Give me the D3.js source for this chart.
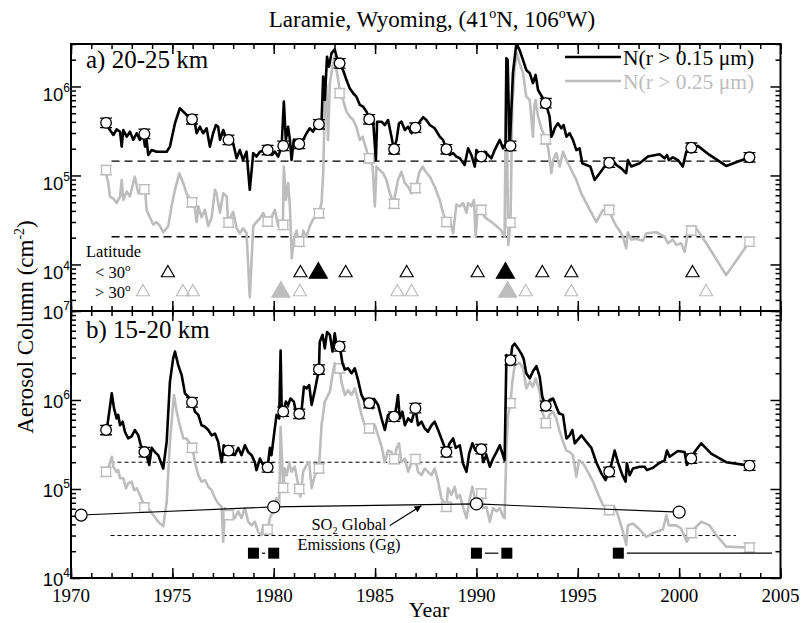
<!DOCTYPE html>
<html><head><meta charset="utf-8">
<script src="https://cdn.jsdelivr.net/npm/d3@7"></script>
<style>body{margin:0;background:#fff}svg{display:block}</style>
</head><body><svg id="c" width="801" height="623"></svg>
<script>
// ---------------- DATA ----------------
const yearTicks = [1970,1975,1980,1985,1990,1995,2000,2005];
const aDecades = [4,5,6];
const bDecades = [4,5,6,7];
const seriesLabels = ["N(r > 0.15 \u03bcm)","N(r > 0.25 \u03bcm)"];

const aBlack = [[1971.73,3.9e5],[1971.92,3.24e5],[1972.09,2.85e5],[1972.25,3.3e5],[1972.42,3.1e5],[1972.50,2.11e5],[1972.58,3.24e5],[1972.75,2.73e5],[1972.91,3.1e5],[1973.07,2.51e5],[1973.24,2.98e5],[1973.40,2.51e5],[1973.56,2.98e5],[1973.65,2.11e5],[1973.73,2.51e5],[1973.81,1.7e5],[1973.98,1.93e5],[1974.22,1.85e5],[1974.72,1.85e5],[1974.88,2.11e5],[1975.13,3.86e5],[1975.37,5.69e5],[1975.54,5.21e5],[1975.87,4.39e5],[1976.11,3.86e5],[1976.20,2.98e5],[1976.36,3.53e5],[1976.52,2.98e5],[1976.69,3.39e5],[1976.85,2.11e5],[1977.01,2.98e5],[1977.15,3.69e5],[1977.26,3.53e5],[1977.35,2.51e5],[1977.51,3.24e5],[1977.68,2.51e5],[1977.84,2.4e5],[1978.00,2.3e5],[1978.17,1.56e5],[1978.33,1.93e5],[1978.49,1.49e5],[1978.66,1.85e5],[1978.82,6.9e4],[1978.99,1.78e5],[1979.15,1.63e5],[1979.32,1.85e5],[1979.65,1.93e5],[1979.89,1.7e5],[1980.06,1.85e5],[1980.22,1.63e5],[1980.39,2.11e5],[1980.50,6.75e5],[1980.60,2.51e5],[1980.71,3.53e5],[1980.80,2.51e5],[1980.88,1.49e5],[1980.99,2.51e5],[1981.13,2.11e5],[1981.25,2.3e5],[1981.45,2.51e5],[1981.62,2.98e5],[1981.78,3.39e5],[1981.94,3.1e5],[1982.11,3.69e5],[1982.36,4.02e5],[1982.44,1.29e6],[1982.52,7.05e5],[1982.63,2.16e6],[1982.73,1.67e6],[1982.85,2.36e6],[1983.01,2.62e6],[1983.10,2.16e6],[1983.23,1.82e6],[1983.42,1.53e6],[1983.59,1.18e6],[1983.75,9.54e5],[1983.92,8.39e5],[1984.08,7.68e5],[1984.25,6.2e5],[1984.41,5.93e5],[1984.58,5.21e5],[1984.71,4.28e5],[1984.90,4.2e5],[1985.04,1.49e5],[1985.10,4.02e5],[1985.32,4.02e5],[1985.48,3.69e5],[1985.64,4.2e5],[1985.81,2.73e5],[1985.92,1.97e5],[1986.06,2.51e5],[1986.18,3.86e5],[1986.30,4.02e5],[1986.47,3.24e5],[1986.63,3.53e5],[1986.80,2.98e5],[1987.01,3.44e5],[1987.20,4.02e5],[1987.37,4.51e5],[1987.53,4.2e5],[1987.70,3.69e5],[1987.94,3.39e5],[1988.19,2.73e5],[1988.35,2.51e5],[1988.52,1.97e5],[1988.68,1.7e5],[1988.85,1.78e5],[1989.01,1.63e5],[1989.18,1.56e5],[1989.42,1.31e5],[1989.59,2.02e5],[1989.75,1.7e5],[1989.92,1.26e5],[1990.00,1.93e5],[1990.21,1.63e5],[1990.41,1.85e5],[1990.57,1.7e5],[1990.74,1.56e5],[1990.90,1.93e5],[1991.15,2.51e5],[1991.31,2.02e5],[1991.44,2.3e5],[1991.48,2.07e6],[1991.54,1.98e6],[1991.64,1.93e5],[1991.80,1.41e6],[1991.97,3.06e6],[1992.13,2.57e6],[1992.30,1.98e6],[1992.46,1.53e6],[1992.63,1.41e6],[1992.79,1.09e6],[1992.92,1.35e6],[1993.04,9.13e5],[1993.42,6.48e5],[1993.61,4.58e5],[1993.70,2.73e5],[1993.78,2.98e5],[1993.86,3.39e5],[1994.02,3.86e5],[1994.19,3.39e5],[1994.30,3.69e5],[1994.44,2.73e5],[1994.60,2.98e5],[1994.76,2.51e5],[1994.93,1.93e5],[1995.09,2.02e5],[1995.22,1.37e5],[1995.42,1.31e5],[1995.62,1.26e5],[1995.83,8.9e4],[1996.08,1.06e5],[1996.32,1.26e5],[1996.54,1.39e5],[1996.73,1.49e5],[1996.90,1.31e5],[1997.15,1.2e5],[1997.39,1.06e5],[1997.47,1.49e5],[1997.64,1.26e5],[1998.05,1.37e5],[1998.46,1.63e5],[1999.04,1.73e5],[1999.28,1.56e5],[1999.40,1.7e5],[1999.49,1.49e5],[1999.69,1.6e5],[1999.94,1.49e5],[2000.18,1.26e5],[2000.35,1.85e5],[2000.60,2.05e5],[2000.92,2.15e5],[2001.50,1.7e5],[2002.32,1.28e5],[2003.47,1.6e5]];

const aGray = [[1971.68,1.15e5],[1971.84,8.2e4],[1971.92,5.8e4],[1972.09,5.5e4],[1972.25,4.9e4],[1972.42,5.8e4],[1972.50,8.9e4],[1972.58,5.3e4],[1972.75,6.6e4],[1972.91,5.8e4],[1973.04,7.8e4],[1973.15,9.7e4],[1973.32,6.3e4],[1973.49,7.2e4],[1973.65,7.0e4],[1973.73,4.1e4],[1973.89,3.4e4],[1974.06,2.8e4],[1974.22,3.0e4],[1974.39,2.7e4],[1974.55,2.3e4],[1974.80,2.7e4],[1974.96,4.5e4],[1975.13,6.9e4],[1975.34,1.06e5],[1975.54,8.2e4],[1975.70,6.3e4],[1975.95,5.0e4],[1976.11,4.3e4],[1976.20,3.0e4],[1976.28,4.5e4],[1976.44,3.4e4],[1976.61,4.1e4],[1976.77,2.7e4],[1976.94,3.4e4],[1977.10,6.9e4],[1977.18,6.3e4],[1977.35,3.8e4],[1977.51,6.3e4],[1977.68,5.8e4],[1977.75,2.95e4],[1978.00,3.9e4],[1978.17,2.55e4],[1978.33,2.24e4],[1978.49,2.55e4],[1978.66,2.24e4],[1978.82,4.3e3],[1978.99,2.7e4],[1979.15,3.0e4],[1979.32,3.3e4],[1979.48,3.8e4],[1979.70,3.0e4],[1979.89,3.4e4],[1980.06,4.1e4],[1980.22,2.7e4],[1980.45,2.8e4],[1980.50,1.26e5],[1980.60,5.3e4],[1980.71,8.2e4],[1980.80,4.5e4],[1980.89,1.17e4],[1980.99,1.9e4],[1981.13,2.4e4],[1981.21,1.8e4],[1981.37,1.6e4],[1981.45,2.4e4],[1981.62,2.05e4],[1981.78,2.7e4],[1981.94,3.2e4],[1982.22,3.8e4],[1982.36,4.9e4],[1982.44,1.06e5],[1982.52,5.9e5],[1982.59,1.04e6],[1982.68,2.51e5],[1982.77,1.09e6],[1982.90,1.67e6],[1983.01,2.16e6],[1983.10,1.53e6],[1983.26,9.1e5],[1983.42,7.05e5],[1983.59,5.2e5],[1983.75,4.6e5],[1983.92,4.2e5],[1984.08,3.5e5],[1984.25,2.5e5],[1984.38,2.73e5],[1984.58,1.93e5],[1984.71,1.56e5],[1984.88,1.26e5],[1984.99,4.5e4],[1985.07,1.26e5],[1985.23,1.15e5],[1985.40,1.06e5],[1985.56,8.9e4],[1985.73,6.3e4],[1985.92,4.8e4],[1985.97,5.8e4],[1986.13,8.9e4],[1986.30,1.1e5],[1986.47,8.2e4],[1986.63,7.5e4],[1986.80,6.3e4],[1987.01,7.2e4],[1987.17,1.06e5],[1987.34,1.26e5],[1987.50,1.1e5],[1987.70,9.7e4],[1987.94,7.5e4],[1988.19,5.3e4],[1988.35,3.8e4],[1988.52,3.0e4],[1988.68,3.2e4],[1988.85,2.24e4],[1989.01,4.7e4],[1989.18,4.5e4],[1989.34,4.9e4],[1989.51,3.8e4],[1989.59,4.9e4],[1989.75,4.5e4],[1989.88,5.3e4],[1989.96,2.05e4],[1990.08,4.5e4],[1990.22,4.1e4],[1990.41,3.4e4],[1990.57,3.2e4],[1990.82,2.9e4],[1990.99,2.7e4],[1991.23,2.4e4],[1991.39,2.05e4],[1991.47,1.98e6],[1991.57,1.66e4],[1991.68,2.95e4],[1991.77,5.9e5],[1991.89,1.67e6],[1992.00,2.36e6],[1992.13,1.82e6],[1992.30,1.41e6],[1992.46,7.7e5],[1992.63,7.05e5],[1992.79,2.73e5],[1992.85,5.9e5],[1992.92,7.05e5],[1993.04,4.58e5],[1993.20,3.4e5],[1993.42,2.55e5],[1993.53,2.1e5],[1993.70,1.06e5],[1993.78,1.49e5],[1993.94,1.78e5],[1994.11,1.26e5],[1994.27,1.85e5],[1994.44,1.49e5],[1994.60,1.26e5],[1994.76,1.06e5],[1994.93,8.9e4],[1995.17,6.3e4],[1995.42,4.9e4],[1995.67,3.8e4],[1995.91,3.0e4],[1996.24,4.1e4],[1996.54,4.1e4],[1996.73,3.2e4],[1996.90,2.7e4],[1997.06,2.4e4],[1997.23,2.05e4],[1997.39,1.52e4],[1997.47,2.3e4],[1997.64,1.9e4],[1997.89,1.95e4],[1998.21,1.85e4],[1998.38,2.24e4],[1998.87,2.3e4],[1999.28,2.05e4],[1999.44,1.73e4],[1999.69,1.9e4],[1999.86,1.66e4],[2000.10,1.73e4],[2000.27,1.39e4],[2000.43,2.24e4],[2000.60,2.4e4],[2000.84,2.55e4],[2001.34,1.73e4],[2002.32,7.6e3],[2003.47,1.8e4]];

const bBlack = [[1971.76,4.6e5],[1971.89,7.4e5],[1972.01,1.19e6],[1972.12,8.1e5],[1972.25,6.2e5],[1972.33,6.8e5],[1972.42,5.2e5],[1972.55,5.7e5],[1972.66,4.4e5],[1972.82,3.7e5],[1972.99,3.9e5],[1973.15,4.6e5],[1973.32,4.0e5],[1973.44,3.1e5],[1973.65,2.6e5],[1973.73,2.4e5],[1973.86,1.86e5],[1973.98,2.9e5],[1974.14,2.6e5],[1974.30,2.4e5],[1974.55,1.7e5],[1974.72,3.4e5],[1974.88,1.6e6],[1975.04,2.94e6],[1975.13,3.5e6],[1975.29,2.47e6],[1975.46,1.9e6],[1975.62,1.19e6],[1975.78,1.09e6],[1976.00,9.4e5],[1976.11,7.4e5],[1976.28,6.8e5],[1976.44,5.2e5],[1976.61,5.0e5],[1976.77,4.6e5],[1976.94,4.0e5],[1977.10,4.2e5],[1977.26,3.4e5],[1977.43,2.0e5],[1977.54,3.1e5],[1977.75,2.7e5],[1977.92,2.6e5],[1978.08,2.4e5],[1978.25,2.9e5],[1978.41,2.4e5],[1978.58,3.1e5],[1978.74,2.6e5],[1978.91,2.4e5],[1979.07,2.0e5],[1979.15,1.63e5],[1979.32,2.2e5],[1979.48,1.86e5],[1979.70,1.75e5],[1979.81,2.9e5],[1979.89,2.4e5],[1980.01,4.0e5],[1980.14,6.8e5],[1980.27,6.2e5],[1980.34,3.6e6],[1980.40,6.8e5],[1980.47,7.4e5],[1980.60,9.6e5],[1980.71,8.8e5],[1980.83,1.04e6],[1980.99,9.6e5],[1981.13,6.8e5],[1981.25,7.0e5],[1981.37,7.4e5],[1981.49,1.41e6],[1981.62,1.35e6],[1981.75,1.47e6],[1981.87,8.8e5],[1982.03,1.29e6],[1982.23,2.2e6],[1982.27,4.5e6],[1982.41,5.4e6],[1982.52,3.8e6],[1982.63,5.8e6],[1982.77,5.4e6],[1982.90,3.5e6],[1983.01,5.6e6],[1983.13,3.8e6],[1983.26,4.0e6],[1983.39,2.6e6],[1983.51,2.2e6],[1983.67,2.27e6],[1983.84,2.0e6],[1984.00,2.27e6],[1984.16,1.68e6],[1984.33,1.14e6],[1984.49,9.6e5],[1984.71,9.2e5],[1984.87,8.1e5],[1984.99,1.0e6],[1985.15,8.8e5],[1985.32,6.2e5],[1985.48,4.6e5],[1985.64,6.8e5],[1985.81,7.1e5],[1985.97,6.5e5],[1986.06,8.8e5],[1986.13,1.14e6],[1986.22,6.2e5],[1986.35,7.4e5],[1986.47,5.2e5],[1986.63,6.2e5],[1986.80,5.7e5],[1986.99,8.1e5],[1987.12,5.2e5],[1987.29,5.7e5],[1987.45,4.8e5],[1987.61,4.4e5],[1987.78,5.2e5],[1987.94,5.7e5],[1988.11,4.6e5],[1988.27,3.7e5],[1988.52,2.6e5],[1988.68,3.26e5],[1988.85,3.7e5],[1988.98,2.9e5],[1989.18,3.1e5],[1989.34,1.94e5],[1989.51,1.56e5],[1989.64,2.5e5],[1989.80,3.26e5],[1989.96,2.7e5],[1990.25,2.8e5],[1990.33,2.0e5],[1990.49,2.4e5],[1990.66,1.78e5],[1990.82,2.2e5],[1990.99,2.6e5],[1991.15,3.1e5],[1991.31,2.4e5],[1991.39,2.1e5],[1991.48,3.2e6],[1991.56,2.7e6],[1991.68,2.8e6],[1991.77,4.0e6],[1991.89,4.3e6],[1992.05,3.8e6],[1992.22,3.3e6],[1992.33,2.9e6],[1992.46,2.0e6],[1992.63,1.75e6],[1992.79,2.1e6],[1992.96,2.4e6],[1993.12,1.83e6],[1993.25,1.09e6],[1993.42,8.6e5],[1993.61,1.0e6],[1993.78,1.04e6],[1993.94,8.4e5],[1994.07,7.1e5],[1994.27,6.8e5],[1994.44,3.7e5],[1994.60,4.0e5],[1994.73,4.6e5],[1994.85,3.26e5],[1994.96,3.5e5],[1995.18,4.0e5],[1995.42,3.4e5],[1995.67,2.9e5],[1995.91,2.0e5],[1996.16,1.5e5],[1996.37,1.26e5],[1996.54,1.56e5],[1996.65,1.86e5],[1996.82,2.7e5],[1996.98,2.0e5],[1997.20,1.43e5],[1997.36,1.21e5],[1997.42,1.94e5],[1997.56,1.43e5],[1997.72,1.7e5],[1998.05,1.78e5],[1998.30,1.78e5],[1998.41,1.63e5],[1998.71,1.73e5],[1999.04,1.97e5],[1999.28,2.1e5],[1999.40,2.7e5],[1999.53,2.3e5],[1999.94,2.67e5],[2000.27,2.6e5],[2000.38,1.86e5],[2000.60,2.2e5],[2000.76,2.6e5],[2001.09,3.26e5],[2001.58,2.5e5],[2002.32,2.0e5],[2003.47,1.83e5]];

const bGray = [[1971.76,1.56e5],[1971.84,1.7e5],[1972.01,2.3e5],[1972.09,1.78e5],[1972.25,1.56e5],[1972.33,1.63e5],[1972.42,1.32e5],[1972.58,1.32e5],[1972.71,1.02e5],[1972.82,1.16e5],[1972.99,1.21e5],[1973.11,9.7e4],[1973.24,1.02e5],[1973.40,8.6e4],[1973.65,6.2e4],[1973.81,6.1e4],[1974.06,5.1e4],[1974.30,4.3e4],[1974.55,3.8e4],[1974.72,7.2e4],[1974.88,3.4e5],[1975.08,1.14e6],[1975.21,7.4e5],[1975.37,5.2e5],[1975.54,3.7e5],[1975.70,3.7e5],[1976.00,2.9e5],[1976.11,2.0e5],[1976.28,1.43e5],[1976.44,1.21e5],[1976.61,1.26e5],[1976.77,1.06e5],[1976.94,9.7e4],[1977.10,7.9e4],[1977.26,6.9e4],[1977.43,6.3e4],[1977.51,2.56e4],[1977.59,6.1e4],[1977.75,5.1e4],[1977.92,5.6e4],[1978.08,4.7e4],[1978.25,5.6e4],[1978.41,4.7e4],[1978.58,6.1e4],[1978.74,4.3e4],[1978.91,3.9e4],[1979.07,4.3e4],[1979.23,3.3e4],[1979.40,3.04e4],[1979.48,3.9e4],[1979.70,3.5e4],[1979.81,4.7e4],[1979.97,5.6e4],[1980.14,7.9e4],[1980.27,6.6e4],[1980.34,5.0e5],[1980.47,1.03e5],[1980.55,1.7e5],[1980.64,1.43e5],[1980.77,2.0e5],[1980.88,1.56e5],[1981.04,1.78e5],[1981.25,1.0e5],[1981.32,8.2e4],[1981.45,1.56e5],[1981.62,1.86e5],[1981.75,2.0e5],[1981.87,1.02e5],[1982.03,1.43e5],[1982.23,1.7e5],[1982.36,5.2e5],[1982.52,9.6e5],[1982.77,1.24e6],[1982.93,2.1e6],[1983.01,2.6e6],[1983.26,2.27e6],[1983.34,1.6e6],[1983.51,1.14e6],[1983.67,1.29e6],[1983.84,1.14e6],[1984.00,1.35e6],[1984.16,1.0e6],[1984.33,6.8e5],[1984.49,5.2e5],[1984.71,4.8e5],[1984.83,4.6e5],[1984.99,5.2e5],[1985.15,4.0e5],[1985.32,3.0e5],[1985.48,2.0e5],[1985.64,2.7e5],[1985.81,2.6e5],[1985.97,2.17e5],[1986.06,2.9e5],[1986.18,3.26e5],[1986.30,2.0e5],[1986.47,2.2e5],[1986.63,1.56e5],[1986.80,2.0e5],[1986.99,2.17e5],[1987.12,1.56e5],[1987.29,1.43e5],[1987.45,1.7e5],[1987.61,1.56e5],[1987.78,1.43e5],[1987.94,1.7e5],[1988.11,1.21e5],[1988.27,7.9e4],[1988.52,6.3e4],[1988.60,1.02e5],[1988.77,8.6e4],[1988.93,1.06e5],[1989.04,7.9e4],[1989.18,8.6e4],[1989.34,6.3e4],[1989.51,4.7e4],[1989.64,7.2e4],[1989.80,1.06e5],[1989.96,7.2e4],[1990.25,8.9e4],[1990.33,6.1e4],[1990.49,6.3e4],[1990.66,4.3e4],[1990.82,6.1e4],[1990.99,5.6e4],[1991.15,6.1e4],[1991.31,4.9e4],[1991.39,4.7e4],[1991.48,2.9e5],[1991.56,6.8e5],[1991.68,9.2e5],[1991.77,1.6e6],[1991.89,2.47e6],[1992.13,2.6e6],[1992.30,2.27e6],[1992.46,1.35e6],[1992.63,1.6e6],[1992.79,1.41e6],[1992.92,1.75e6],[1993.12,1.24e6],[1993.25,7.4e5],[1993.42,5.5e5],[1993.61,6.8e5],[1993.78,7.4e5],[1993.94,6.2e5],[1994.11,4.4e5],[1994.27,3.4e5],[1994.44,2.7e5],[1994.60,2.6e5],[1994.76,2.4e5],[1994.93,1.37e5],[1995.06,2.1e5],[1995.26,1.94e5],[1995.50,1.56e5],[1995.75,1.21e5],[1995.99,8.9e4],[1996.24,6.6e4],[1996.57,5.8e4],[1996.82,6.2e4],[1996.98,5.1e4],[1997.23,3.3e4],[1997.39,2.35e4],[1997.47,3.9e4],[1997.72,4.1e4],[1998.05,3.5e4],[1998.38,2.9e4],[1998.71,3.2e4],[1999.20,3.5e4],[1999.37,5.1e4],[1999.49,3.9e4],[1999.86,3.9e4],[2000.10,3.6e4],[2000.27,2.9e4],[2000.38,2.56e4],[2000.60,3.2e4],[2000.76,3.6e4],[2001.09,4.3e4],[2001.50,3.9e4],[2001.83,3.04e4],[2002.32,2.25e4],[2003.47,2.2e4]];

// balloon sounding markers with error bars
const markerYears = [1971.73,1973.62,1975.97,1977.77,1979.70,1980.47,1981.26,1982.23,1983.25,1984.71,1985.94,1986.99,1988.52,1990.24,1991.68,1993.42,1996.55,2000.60,2003.47];
const aCirc = [3.9e5,2.93e5,4.28e5,2.51e5,1.93e5,2.15e5,2.26e5,3.76e5,1.82e6,4.28e5,1.97e5,3.44e5,1.97e5,1.63e5,2.15e5,6.48e5,1.39e5,2.05e5,1.6e5];
const aSq   = [1.15e5,7.0e4,5.0e4,2.95e4,3.03e4,2.78e4,1.8e4,3.76e4,8.4e5,1.56e5,4.8e4,7.2e4,3.0e4,4.1e4,2.95e4,2.55e5,4.1e4,2.4e4,1.8e4];
const bCirc = [4.6e5,2.6e5,9.4e5,2.7e5,1.75e5,7.4e5,7.0e5,2.2e6,4.0e6,9.2e5,6.5e5,8.1e5,2.6e5,2.8e5,2.8e6,8.6e5,1.56e5,2.2e5,1.83e5];
const bSq   = [1.56e5,6.2e4,2.9e5,5.1e4,3.5e4,1.03e5,1.0e5,1.7e5,2.27e6,4.8e5,2.17e5,2.17e5,6.3e4,8.9e4,9.2e5,5.5e5,5.8e4,3.2e4,2.2e4];
const errFactor = 1.13;

// background levels (dashed)
const aDash = [1.45e5, 2.05e4];
const aDashSpan = [1972.0, 2003.1];
const bDash = [2.0e5, 3.0e4];
const bDashSpan = [1971.95, 2002.8];

// volcanic eruptions: [year, major?]
const latLow  = [[1974.78,0],[1981.32,0],[1982.2,1],[1983.55,0],[1986.56,0],[1990.06,0],[1991.43,1],[1993.25,0],[1994.68,0],[2000.66,0]];
const latHigh = [[1973.55,0],[1975.52,0],[1976.01,0],[1980.35,1],[1981.29,0],[1986.1,0],[1986.8,0],[1991.54,1],[1992.43,0],[1994.68,0],[2001.33,0]];

// SO2 global emissions (plotted on panel b scale)
const so2Years = [1970.5, 1980, 1990, 2000];
const so2Vals  = [5.1e4, 6.3e4, 6.8e4, 5.5e4];
const arrowTail = [1985.73, 3.9e4];
const arrowTip  = [1987.29, 6.5e4];

// instrument periods
const eventYears = [1979, 1980, 1990, 1991.5, 1997];
const eventSpans = [[1979,1980],[1990,1991.5],[1997,2005]];
const eventLevel = 1.9e4;

// ---------------- DRAW ----------------
const svg = d3.select("#c");
const SERIF = '"Liberation Serif","Times New Roman",serif';
const SANS = '"Liberation Sans",Arial,sans-serif';
const GRAY = "#bdbdbd";
const L = 71, R = 780.5;
const x = d3.scaleLinear().domain([1970,2005]).range([L,R]);

const panels = [
  {top:44, bot:311, dom:[3e3,3e6], dec:aDecades, labOff:15, labY:68, label:"a) 20-25 km", black:aBlack, gray:aGray, circ:aCirc, sq:aSq, dash:aDash, span:aDashSpan, dashArr:"8,5", dashW:1.4},
  {top:311, bot:578, dom:[1e4,1e7], dec:bDecades, labOff:8, labY:338, label:"b) 15-20 km", black:bBlack, gray:bGray, circ:bCirc, sq:bSq, dash:bDash, span:bDashSpan, dashArr:"4,3", dashW:1}
];
const minorYears = d3.range(1970, 2006);

panels.forEach((p,i)=>{
  const y = d3.scaleLog().domain(p.dom).range([p.bot,p.top]);
  p.y = y;
  const clipId = "clip"+i;
  svg.append("clipPath").attr("id",clipId).append("rect")
    .attr("x",L).attr("y",p.top).attr("width",R-L).attr("height",p.bot-p.top);

  const minorV = [], majorV = [];
  for (let e=Math.floor(Math.log10(p.dom[0])); e<=Math.ceil(Math.log10(p.dom[1])); e++){
    for (let k=1;k<10;k++){
      const v = k*Math.pow(10,e);
      if (v < p.dom[0]*0.999 || v > p.dom[1]*1.001) continue;
      (k===1?majorV:minorV).push(v);
    }
  }
  const tickG = svg.append("g");
  const styleAxis = g => { g.select(".domain").remove(); g.selectAll("line").attr("stroke","#000").attr("stroke-width",1.5); g.selectAll("text").remove(); };
  tickG.append("g").attr("transform",`translate(0,${p.bot})`).call(d3.axisBottom(x).tickValues(minorYears).tickSize(-5)).call(styleAxis);
  tickG.append("g").attr("transform",`translate(0,${p.bot})`).call(d3.axisBottom(x).tickValues(yearTicks).tickSize(-10)).call(styleAxis);
  tickG.append("g").attr("transform",`translate(0,${p.top})`).call(d3.axisTop(x).tickValues(minorYears).tickSize(-5)).call(styleAxis);
  tickG.append("g").attr("transform",`translate(0,${p.top})`).call(d3.axisTop(x).tickValues(yearTicks).tickSize(-10)).call(styleAxis);
  tickG.append("g").attr("transform",`translate(${L},0)`).call(d3.axisLeft(y).tickValues(minorV).tickSize(-5)).call(styleAxis);
  tickG.append("g").attr("transform",`translate(${L},0)`).call(d3.axisLeft(y).tickValues(majorV).tickSize(-10)).call(styleAxis);
  tickG.append("g").attr("transform",`translate(${R},0)`).call(d3.axisRight(y).tickValues(minorV).tickSize(-5)).call(styleAxis);
  tickG.append("g").attr("transform",`translate(${R},0)`).call(d3.axisRight(y).tickValues(majorV).tickSize(-10)).call(styleAxis);

  p.dec.forEach(e=>{
    const t = svg.append("text").attr("x",L-1).attr("y",y(Math.pow(10,e))+p.labOff)
      .attr("text-anchor","end").attr("font-family",SANS).attr("font-size",18.5);
    t.append("tspan").text("10");
    t.append("tspan").attr("font-size",12).attr("dy",-9).text(e);
  });

  const plot = svg.append("g").attr("clip-path",`url(#${clipId})`);
  p.dash.forEach(v=>{
    plot.append("line").attr("x1",x(p.span[0])).attr("x2",x(p.span[1]))
      .attr("y1",y(v)).attr("y2",y(v)).attr("stroke","#000")
      .attr("stroke-width",p.dashW).attr("stroke-dasharray",p.dashArr);
  });

  const line = d3.line().x(d=>x(d[0])).y(d=>y(d[1]));
  plot.append("path").datum(p.gray).attr("d",line).attr("fill","none")
    .attr("stroke",GRAY).attr("stroke-width",2.6).attr("stroke-linejoin","round");

  const sqG = plot.append("g");
  markerYears.forEach((yr,j)=>{
    const v = p.sq[j], cx = x(yr);
    const y1 = y(v*errFactor), y2 = y(v/errFactor);
    sqG.append("line").attr("x1",cx).attr("x2",cx).attr("y1",y1).attr("y2",y2).attr("stroke",GRAY).attr("stroke-width",1.3);
    [y1,y2].forEach(yy=>sqG.append("line").attr("x1",cx-6).attr("x2",cx+6).attr("y1",yy).attr("y2",yy).attr("stroke",GRAY).attr("stroke-width",1.3));
    sqG.append("rect").attr("x",cx-4.5).attr("y",y(v)-4.5).attr("width",9).attr("height",9)
      .attr("fill","#fff").attr("stroke",GRAY).attr("stroke-width",1.3);
  });

  plot.append("path").datum(p.black).attr("d",line).attr("fill","none")
    .attr("stroke","#000").attr("stroke-width",2.6).attr("stroke-linejoin","round");

  const cG = plot.append("g");
  markerYears.forEach((yr,j)=>{
    const v = p.circ[j], cx = x(yr);
    const y1 = y(v*errFactor), y2 = y(v/errFactor);
    cG.append("line").attr("x1",cx).attr("x2",cx).attr("y1",y1).attr("y2",y2).attr("stroke","#000").attr("stroke-width",1.3);
    [y1,y2].forEach(yy=>cG.append("line").attr("x1",cx-6).attr("x2",cx+6).attr("y1",yy).attr("y2",yy).attr("stroke","#000").attr("stroke-width",1.3));
    cG.append("circle").attr("cx",cx).attr("cy",y(v)).attr("r",5.3)
      .attr("fill","#fff").attr("stroke","#000").attr("stroke-width",1.3);
  });

  svg.append("rect").attr("x",L).attr("y",p.top).attr("width",R-L).attr("height",p.bot-p.top)
    .attr("fill","none").attr("stroke","#000").attr("stroke-width",2);

  svg.append("text").attr("x",86).attr("y",p.labY).attr("font-family",SERIF)
    .attr("font-size",25).text(p.label);
});

// x labels
yearTicks.forEach(yr=>{
  svg.append("text").attr("x",x(yr)).attr("y",602).attr("text-anchor","middle")
    .attr("font-family",SERIF).attr("font-size",19).text(yr);
});
svg.append("text").attr("x",429).attr("y",617).attr("text-anchor","middle")
  .attr("font-family",SERIF).attr("font-size",22).text("Year");

// y title
const yt = svg.append("text").attr("transform","translate(33,327) rotate(-90)")
  .attr("text-anchor","middle").attr("font-family",SERIF).attr("font-size",23);
yt.append("tspan").text("Aerosol Column (cm");
yt.append("tspan").attr("font-size",14).attr("dy",-9).text("-2");
yt.append("tspan").attr("dy",9).text(")");

// title
const tt = svg.append("text").attr("x",432).attr("y",27).attr("text-anchor","middle")
  .attr("font-family",SERIF).attr("font-size",23);
tt.append("tspan").text("Laramie, Wyoming, (41");
tt.append("tspan").attr("font-size",14).attr("dy",-9).text("o");
tt.append("tspan").attr("dy",9).text("N, 106");
tt.append("tspan").attr("font-size",14).attr("dy",-9).text("o");
tt.append("tspan").attr("dy",9).text("W)");

// legend
[["#000",0],[GRAY,1]].forEach(([c,k])=>{
  const ly = 57 + k*24;
  svg.append("line").attr("x1",565).attr("x2",621).attr("y1",ly).attr("y2",ly).attr("stroke",c).attr("stroke-width",2.6);
  svg.append("text").attr("x",623).attr("y",ly+8).attr("font-family",SERIF).attr("font-size",21.5)
    .attr("fill",c).text(seriesLabels[k]);
});

// latitude triangles
svg.append("text").attr("x",86).attr("y",257).attr("font-family",SERIF).attr("font-size",16.5).text("Latitude");
[["< 30",278],["> 30",298]].forEach(([s,yy])=>{
  const t = svg.append("text").attr("x",95).attr("y",yy).attr("font-family",SERIF).attr("font-size",16.5);
  t.append("tspan").text(s);
  t.append("tspan").attr("font-size",11).attr("dy",-7).text("o");
});
const rowY = d3.scalePoint().domain(["low","high"]).range([273,292]);
[[latLow,"low","#000"],[latHigh,"high",GRAY]].forEach(([arr,row,c])=>{
  arr.forEach(([yr,big])=>{
    const side = big ? 18 : 13;
    const area = Math.sqrt(3)/4*side*side;
    svg.append("path").attr("d",d3.symbol(d3.symbolTriangle, area)())
      .attr("transform",`translate(${x(yr)},${rowY(row)})`)
      .attr("fill", big ? c : "none").attr("stroke",c).attr("stroke-width",1.2);
  });
});

// SO2 emissions
const yb = panels[1].y;
const so2 = so2Years.map((yr,i)=>[yr,so2Vals[i]]);
svg.append("path").datum(so2).attr("d",d3.line().x(d=>x(d[0])).y(d=>yb(d[1])))
  .attr("fill","none").attr("stroke","#000").attr("stroke-width",1.1);
so2.forEach(d=>svg.append("circle").attr("cx",x(d[0])).attr("cy",yb(d[1])).attr("r",6)
  .attr("fill","#fff").attr("stroke","#000").attr("stroke-width",1.2));
const s1 = svg.append("text").attr("x",349).attr("y",530).attr("text-anchor","middle").attr("font-family",SERIF).attr("font-size",16.5);
s1.append("tspan").text("SO");
s1.append("tspan").attr("font-size",10).attr("dy",4).text("2");
s1.append("tspan").attr("dy",-4).text(" Global");
svg.append("text").attr("x",349).attr("y",550).attr("text-anchor","middle").attr("font-family",SERIF).attr("font-size",16.5).text("Emissions (Gg)");
svg.append("defs").append("marker").attr("id","ah").attr("viewBox","0 0 10 10").attr("refX",10).attr("refY",5)
  .attr("markerWidth",9).attr("markerHeight",7).attr("markerUnits","userSpaceOnUse").attr("orient","auto")
  .append("path").attr("d","M0,0L10,5L0,10Z").attr("fill","#000");
svg.append("line").attr("x1",x(arrowTail[0])).attr("y1",yb(arrowTail[1]))
  .attr("x2",x(arrowTip[0])).attr("y2",yb(arrowTip[1])).attr("stroke","#000").attr("stroke-width",1.2)
  .attr("marker-end","url(#ah)");

// instrument periods
const ey = yb(eventLevel);
eventSpans.forEach(([a,b])=>{
  svg.append("line").attr("x1",x(a)+8.5).attr("x2",Math.min(x(b)-8.5, R)).attr("y1",ey).attr("y2",ey)
    .attr("stroke","#000").attr("stroke-width",1.2);
});
eventYears.forEach(yr=>svg.append("rect").attr("x",x(yr)-5.5).attr("y",ey-5.5).attr("width",11).attr("height",11).attr("fill","#000"));
</script>
</body></html>
